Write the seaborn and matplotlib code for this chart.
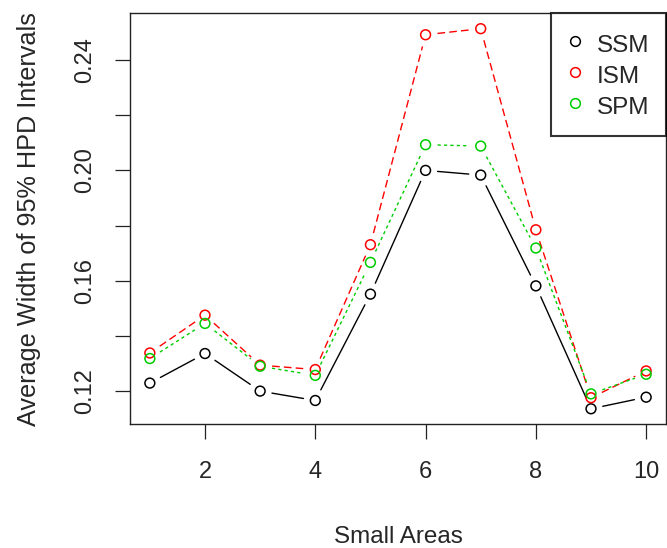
import matplotlib
matplotlib.use("Agg")
import matplotlib.pyplot as plt
from matplotlib.lines import Line2D
import seaborn as sns
import numpy as np
import pandas as pd

# data
areas = list(range(1, 11))
ssm = [0.1230, 0.1337, 0.1201, 0.1167, 0.1552, 0.2000, 0.1983, 0.1582, 0.1137, 0.1179]
ism = [0.1339, 0.1476, 0.1295, 0.1279, 0.1731, 0.2491, 0.2513, 0.1785, 0.1177, 0.1274]
spm = [0.1319, 0.1446, 0.1291, 0.1258, 0.1667, 0.2093, 0.2088, 0.1719, 0.1191, 0.1262]
models = ["SSM", "ISM", "SPM"]
colors = ["black", "red", "#00CD00"]
styles = [(None, None), (5.5, 3), (2.3, 2.3)]

xticks = [2, 4, 6, 8, 10]
yticks = [0.12, 0.14, 0.16, 0.18, 0.20, 0.22, 0.24]
ytick_labels = ["0.12", "", "0.16", "", "0.20", "", "0.24"]

df = pd.DataFrame({
    "area": areas * 3,
    "width": ssm + ism + spm,
    "model": np.repeat(models, len(areas)),
})

sns.set_style("ticks")
plt.rcParams["font.family"] = ["Liberation Sans", "DejaVu Sans"]
plt.rcParams["font.size"] = 17

fig = plt.figure(figsize=(6.67, 5.48), dpi=100)
ax = fig.add_axes([0.1949, 0.2263, 0.8036, 0.7491])


def r_lim(vals):
    lo, hi = min(vals), max(vals)
    pad = (hi - lo) * 0.04
    return lo - pad, hi + pad


ax.set_xlim(*r_lim(areas))
ax.set_ylim(*r_lim(df["width"]))


def gapped_lines(x, y, gap, **kw):
    # R type="b": segments stop short of each point
    pts = ax.transData.transform(np.column_stack([x, y]))
    inv = ax.transData.inverted()
    for p0, p1 in zip(pts[:-1], pts[1:]):
        d = p1 - p0
        length = np.hypot(*d)
        if length <= 2 * gap:
            continue
        u = d / length
        a = inv.transform(p0 + u * gap)
        b = inv.transform(p1 - u * gap)
        ax.plot([a[0], b[0]], [a[1], b[1]], **kw)


for name, c, dash in zip(models, colors, styles):
    sub = df[df["model"] == name]
    kw = dict(color=c, lw=1.0)
    if dash[0] is not None:
        kw["dashes"] = dash
    gapped_lines(sub["area"].values, sub["width"].values, 12, **kw)
    sns.scatterplot(data=sub, x="area", y="width", marker="o", s=50,
                    facecolor="none", edgecolor=c, linewidth=1.1,
                    zorder=3, legend=False, ax=ax)

ax.set_xticks(xticks)
ax.set_yticks(yticks)
ax.set_yticklabels(ytick_labels, rotation=90, va="center")
ax.tick_params(length=10.5, width=0.9, color="#222222")
ax.tick_params(axis="x", pad=16)
ax.tick_params(axis="y", pad=14)
for sp in ax.spines.values():
    sp.set_linewidth(1.0)
    sp.set_color("#222222")

ax.set_xlabel("Small Areas", labelpad=31, fontsize=17.5)
ax.set_ylabel("Average Width of 95% HPD Intervals", labelpad=24, fontsize=18.2)

handles = [Line2D([], [], ls="", marker="o", ms=7, mfc="none", mec=c, mew=1.1)
           for c in colors]
leg = ax.legend(handles, models, loc="upper right", borderaxespad=0,
                frameon=True, fancybox=False, edgecolor="black",
                handlelength=0.64, handleheight=1.3, handletextpad=0.55,
                labelspacing=0.19, borderpad=0.7, fontsize=17.5)
leg.get_frame().set_linewidth(1.5)

fig.savefig("out.png", dpi=100)
